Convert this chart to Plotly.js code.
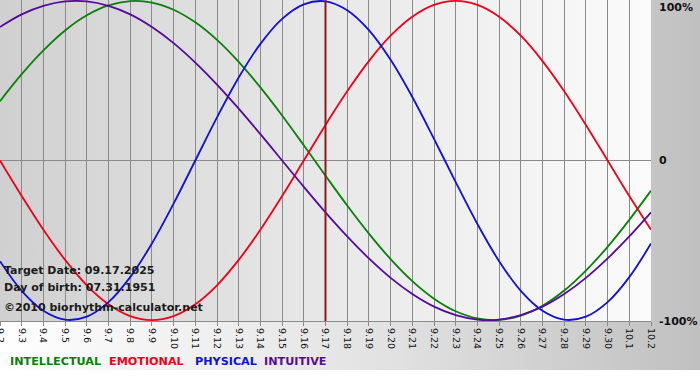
<!DOCTYPE html>
<html>
<head>
<meta charset="utf-8">
<script src="https://cdn.plot.ly/plotly-3.0.1.min.js"></script>
<style>
  html, body { margin: 0; padding: 0; background: #fff; }
  #wrap { position: relative; width: 700px; height: 380px; overflow: hidden; }
  #outerbg { position: absolute; left: 0; top: 0; width: 700px; height: 370px;
             background: linear-gradient(to right, #ffffff 0%, #e2e2e2 55%, #c0c0c0 100%); }
  #plotbg { position: absolute; left: 0; top: 0; width: 651px; height: 321px;
            background: linear-gradient(to right, #d0d0d0 0%, #e6e6e6 45%, #fbfbfb 100%); }
  #chart { position: absolute; left: 0; top: 0; width: 700px; height: 380px; }
</style>
</head>
<body>
<div id="wrap">
  <div id="outerbg"></div>
  <div id="plotbg"></div>
  <div id="chart"></div>
</div>
<script>
// Day labels (September 2 to October 2)
const days = ["9.2","9.3","9.4","9.5","9.6","9.7","9.8","9.9","9.10","9.11","9.12","9.13","9.14","9.15","9.16","9.17","9.18","9.19","9.20","9.21","9.22","9.23","9.24","9.25","9.26","9.27","9.28","9.29","9.30","10.1","10.2"];

// Values (fraction of 100%)
const intellectual = [0.372,0.541,0.690,0.815,0.910,0.972,0.999,0.990,0.945,0.866,0.756,0.618,0.458,0.282,0.095,-0.095,-0.282,-0.458,-0.618,-0.756,-0.866,-0.945,-0.990,-0.999,-0.972,-0.910,-0.815,-0.690,-0.541,-0.372,-0.189];
const emotional    = [0.000,-0.223,-0.434,-0.623,-0.782,-0.901,-0.975,-1.000,-0.975,-0.901,-0.782,-0.623,-0.434,-0.223,0.000,0.223,0.434,0.623,0.782,0.901,0.975,1.000,0.975,0.901,0.782,0.623,0.434,0.223,0.000,-0.223,-0.434];
const physical     = [-0.631,-0.817,-0.942,-0.998,-0.979,-0.888,-0.731,-0.520,-0.270,0.000,0.270,0.520,0.731,0.888,0.979,0.998,0.942,0.817,0.631,0.398,0.136,-0.136,-0.398,-0.631,-0.817,-0.942,-0.998,-0.979,-0.888,-0.731,-0.520];
const intuitive    = [0.837,0.916,0.969,0.997,0.997,0.969,0.916,0.837,0.736,0.614,0.476,0.325,0.165,0.000,-0.165,-0.325,-0.476,-0.614,-0.736,-0.837,-0.916,-0.969,-0.997,-0.997,-0.969,-0.916,-0.837,-0.736,-0.614,-0.476,-0.325];

const seriesNames = ["INTELLECTUAL","EMOTIONAL","PHYSICAL","INTUITIVE"];
const seriesColors = ["#0a800a","#f00018","#1010d8","#560a9c"];
const targetDay = "9.17";
const infoLines = ["Target Date: 09.17.2025","Day of birth: 07.31.1951","\u00a92010 biorhythm-calculator.net"];
const yLabels = ["100%","0","-100%"];

const PW = 651, PH = 321;
const FONT = "'DejaVu Sans', Verdana, sans-serif";

const allSeries = [intellectual, emotional, physical, intuitive];
const traces = allSeries.map((vals,k)=>({
  x: days, y: vals, type: 'scatter', mode: 'lines',
  line: {color: seriesColors[k], width: 1.8, shape: 'spline', smoothing: 1.0},
  name: seriesNames[k], hoverinfo: 'skip', showlegend: false
}));

const annotations = [];
const infoY = [270, 287, 307];
infoLines.forEach((t,i)=>annotations.push({
  xref:'paper', yref:'paper', x: 2/PW, y: 1 - infoY[i]/PH, xanchor:'left', yanchor:'middle',
  text: '<b>'+t+'</b>', showarrow:false, font:{family:FONT, size:11, color:'#1a1a1a'}
}));
yLabels.forEach((t,i)=>{
  const py = i===0 ? 7 : (i===1 ? 161 : 321);
  annotations.push({
    xref:'paper', yref:'paper', x: 657/PW, y: 1 - py/PH, xanchor:'left', yanchor:'middle',
    text:'<b>'+t+'</b>', showarrow:false, font:{family:FONT, size:11, color:'#111'}
  });
});
const legendX = [8, 107, 193, 262];
seriesNames.forEach((n,k)=>annotations.push({
  xref:'paper', yref:'paper', x: legendX[k]/PW, y: 1 - 361/PH, xanchor:'left', yanchor:'middle',
  text:'<b>'+n+'</b>', showarrow:false, font:{family:FONT, size:11.2, color:seriesColors[k]}
}));

const tIdx = days.indexOf(targetDay);

const layout = {
  width: 700, height: 380,
  margin: {l:0, r:49, t:0, b:59, pad:0},
  paper_bgcolor: 'rgba(0,0,0,0)', plot_bgcolor: 'rgba(0,0,0,0)',
  showlegend: false,
  xaxis: {
    type:'category', categoryorder:'array', categoryarray: days,
    range:[0, days.length-1], fixedrange:true,
    showgrid:true, gridcolor:'#8a8a8a', gridwidth:1,
    showline:true, linecolor:'#8a8a8a', linewidth:1,
    ticks:'outside', ticklen:4, tickcolor:'#8a8a8a', tickwidth:1,
    tickangle:90, tickfont:{family:FONT, size:9.5, color:'#111'},
    zeroline:false, automargin:false
  },
  yaxis: {
    range:[-1.006, 1.006], fixedrange:true,
    showgrid:false, showticklabels:false, ticks:'',
    zeroline:true, zerolinecolor:'#8a8a8a', zerolinewidth:1,
    showline:false, automargin:false
  },
  shapes: [{
    type:'line', xref:'x', yref:'paper', x0: tIdx, x1: tIdx, y0:0, y1:1,
    line:{color:'#8a1c1c', width:2}, layer:'above'
  }],
  annotations: annotations,
  hovermode: false
};

Plotly.newPlot('chart', traces, layout, {displayModeBar:false, staticPlot:true});
</script>
</body>
</html>
